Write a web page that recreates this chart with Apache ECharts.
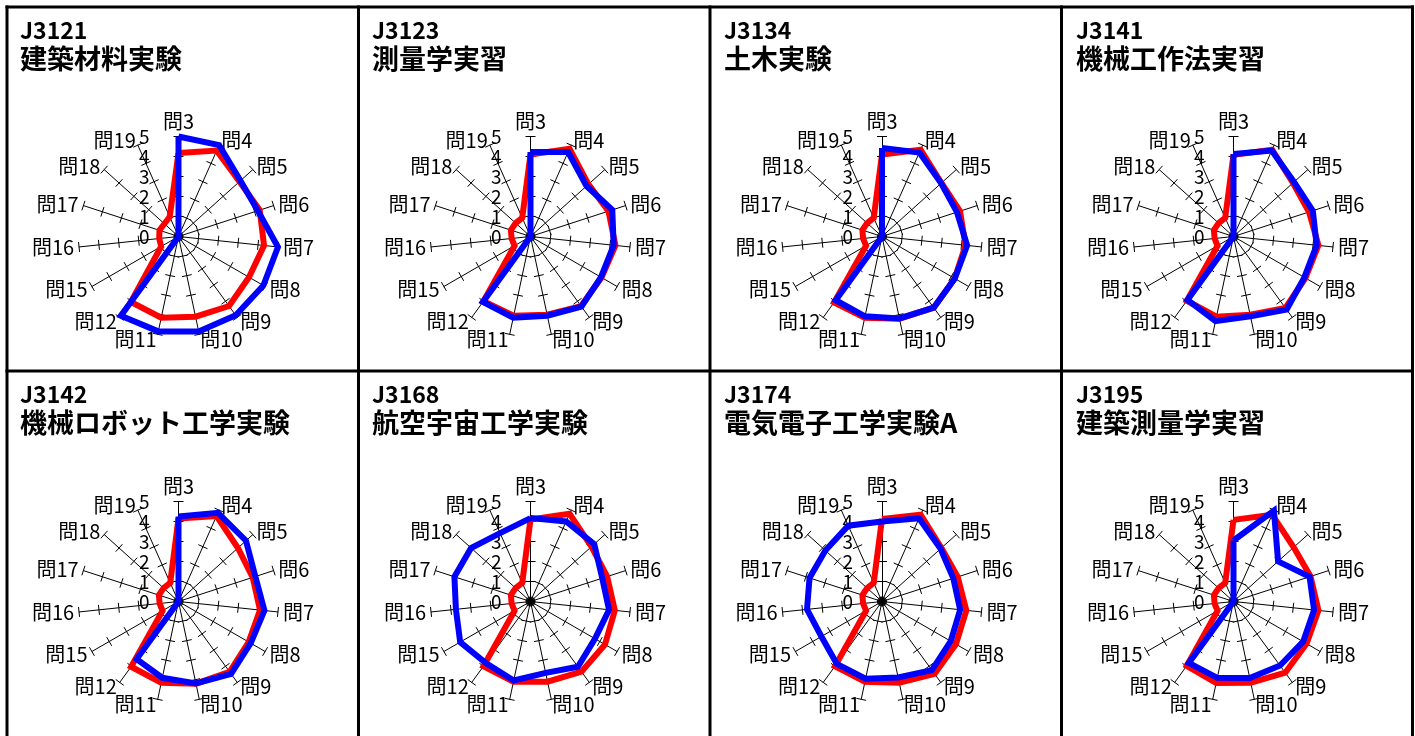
<!DOCTYPE html>
<html><head><meta charset="utf-8">
<script src="https://cdn.jsdelivr.net/npm/echarts@6/dist/echarts.min.js"></script>
<style>html,body{margin:0;padding:0;background:#fff}#c{width:1415px;height:736px}</style>
</head><body><div id="c"></div><script>
const questions = ['問3','問4','問5','問6','問7','問8','問9','問10','問11','問12','問15','問16','問17','問18','問19'];
const scaleTicks = ['0','1','2','3','4','5'];
const courseCodes = ['J3121','J3123','J3134','J3141','J3142','J3168','J3174','J3195'];
const courseNames = ['建築材料実験','測量学実習','土木実験','機械工作法実習','機械ロボット工学実験','航空宇宙工学実験','電気電子工学実験A','建築測量学実習'];

// red = comparison average, blue = course (order follows `questions`)
const red_J3121  = [4.17, 4.70, 4.10, 4.27, 4.30, 4.07, 4.30, 4.10, 4.15, 4.05, 1.00, 0.97, 1.00, 0.95, 1.08];
const blue_J3121 = [5.00, 5.00, 4.17, 4.17, 5.00, 4.90, 4.87, 4.85, 4.85, 4.90, 0, 0, 0, 0, 0];
const red_J3123  = [4.10, 4.80, 3.90, 4.10, 4.27, 4.10, 4.30, 4.00, 4.05, 4.00, 0.92, 0.95, 1.03, 1.00, 1.02];
const blue_J3123 = [4.22, 4.62, 3.77, 4.30, 4.18, 4.07, 4.33, 4.05, 4.15, 4.05, 0, 0, 0, 0, 0];
const red_J3134  = [4.10, 4.75, 4.00, 4.10, 4.20, 4.20, 4.40, 4.20, 4.15, 4.07, 0.92, 0.95, 1.03, 1.00, 1.02];
const blue_J3134 = [4.43, 4.60, 3.98, 3.94, 4.28, 4.20, 4.40, 4.19, 4.08, 3.94, 0, 0, 0, 0, 0];
const red_J3141  = [4.08, 4.75, 4.00, 3.97, 4.27, 4.15, 4.42, 4.00, 4.10, 3.97, 0.92, 0.95, 1.03, 1.00, 1.02];
const blue_J3141 = [4.13, 4.70, 4.07, 4.17, 4.18, 4.09, 4.52, 4.08, 4.33, 3.92, 0, 0, 0, 0, 0];
const red_J3142  = [4.15, 4.68, 4.00, 3.90, 4.10, 4.05, 4.35, 4.20, 4.15, 4.03, 0.92, 0.95, 1.03, 1.00, 1.02];
const blue_J3142 = [4.25, 4.85, 4.54, 4.04, 4.32, 4.17, 4.47, 4.19, 3.90, 3.56, 0, 0, 0, 0, 0];
const red_J3168  = [4.10, 4.80, 4.10, 4.03, 4.24, 4.30, 4.34, 4.10, 4.10, 4.00, 0.92, 0.95, 1.03, 1.00, 1.02];
const blue_J3168 = [4.17, 4.38, 4.29, 3.77, 3.95, 3.72, 4.03, 3.65, 4.04, 3.80, 4.06, 3.75, 4.00, 4.00, 3.74];
const red_J3174  = [4.13, 4.75, 4.00, 3.98, 4.24, 4.27, 4.47, 4.15, 4.10, 4.00, 0.92, 0.95, 1.03, 1.00, 1.02];
const blue_J3174 = [4.00, 4.55, 3.94, 3.75, 3.93, 3.97, 4.24, 3.88, 3.95, 3.85, 3.50, 3.77, 3.81, 3.81, 4.15];
const red_J3195  = [4.08, 4.75, 4.05, 4.05, 4.27, 4.22, 4.40, 4.15, 4.17, 3.98, 0.92, 0.95, 1.03, 1.00, 1.02];
const blue_J3195 = [3.05, 4.97, 3.00, 4.00, 4.05, 4.02, 3.96, 3.91, 3.90, 3.80, 0, 0, 0, 0, 0];

const redSeries  = [red_J3121, red_J3123, red_J3134, red_J3141, red_J3142, red_J3168, red_J3174, red_J3195];
const blueSeries = [blue_J3121, blue_J3123, blue_J3134, blue_J3141, blue_J3142, blue_J3168, blue_J3174, blue_J3195];

const FONT = '"Noto Sans CJK JP", "Noto Sans", sans-serif';
const CX = [178.5, 530.5, 882, 1233.5];
const CY = [236.5, 601.5];
const TL = [20, 372, 724, 1076];
const TT = [19, 383];
const N = questions.length;
// ECharts radar places indicators counter-clockwise; reorder so the chart runs clockwise
const order = [0];
for (let k = N - 1; k >= 1; k--) order.push(k);
const MAXV = Number(scaleTicks[scaleTicks.length - 1]);

function makeRadar(i, main) {
  return {
    center: [CX[i % 4], CY[Math.floor(i / 4)]],
    radius: 100,
    startAngle: 90,
    shape: 'polygon',
    splitNumber: scaleTicks.length - 1,
    indicator: order.map((k, j) => {
      const o = { name: questions[k], min: 0, max: MAXV };
      if (main && j === 0) o.axisLabel = { show: true };
      return o;
    }),
    axisName: { show: main, color: '#000', fontSize: 20, fontFamily: FONT },
    nameGap: 5,
    splitLine: { show: false },
    splitArea: { show: false },
    axisLine: { show: main, lineStyle: { color: '#000', width: 1 } },
    axisTick: { show: true, inside: false, length: main ? 5 : -5, lineStyle: { color: '#000', width: 1 } },
    axisLabel: { show: false, color: '#000', fontSize: 19, margin: 29, fontFamily: FONT }
  };
}

const radars = [];
const series = [];
const titles = [];
for (let i = 0; i < 8; i++) {
  radars.push(makeRadar(i, true));
  radars.push(makeRadar(i, false));
  series.push({
    type: 'radar',
    radarIndex: i * 2,
    symbol: 'none',
    silent: true,
    data: [
      { value: order.map(k => redSeries[i][k]), lineStyle: { color: '#FF0000', width: 6, join: 'miter' } },
      { value: order.map(k => blueSeries[i][k]), lineStyle: { color: '#0000FF', width: 6, join: 'miter' } }
    ]
  });
  // tick-only companion radar (draws the other half of each crossing tick)
  series.push({ type: 'radar', radarIndex: i * 2 + 1, symbol: 'none', silent: true, data: [] });
  titles.push({
    text: courseCodes[i],
    subtext: courseNames[i],
    left: TL[i % 4],
    top: TT[Math.floor(i / 4)],
    padding: 0,
    itemGap: 3,
    textStyle: { fontSize: 23, fontWeight: 'bold', color: '#000', fontFamily: FONT },
    subtextStyle: { fontSize: 27, fontWeight: 'bold', color: '#000', fontFamily: FONT }
  });
}

const VX = [7, 358.5, 710, 1061.5, 1412.5];
const HY = [7, 371];
const graphic = [];
VX.forEach(x => graphic.push({ type: 'line', shape: { x1: x, y1: 5.5, x2: x, y2: 740 }, style: { stroke: '#000', lineWidth: 3 } }));
HY.forEach(y => graphic.push({ type: 'line', shape: { x1: 5.5, y1: y, x2: 1414, y2: y }, style: { stroke: '#000', lineWidth: 3 } }));

const chart = echarts.init(document.getElementById('c'), null, { renderer: 'canvas' });
chart.setOption({
  animation: false,
  backgroundColor: '#fff',
  title: titles,
  radar: radars,
  series: series,
  graphic: graphic
});
</script></body></html>
